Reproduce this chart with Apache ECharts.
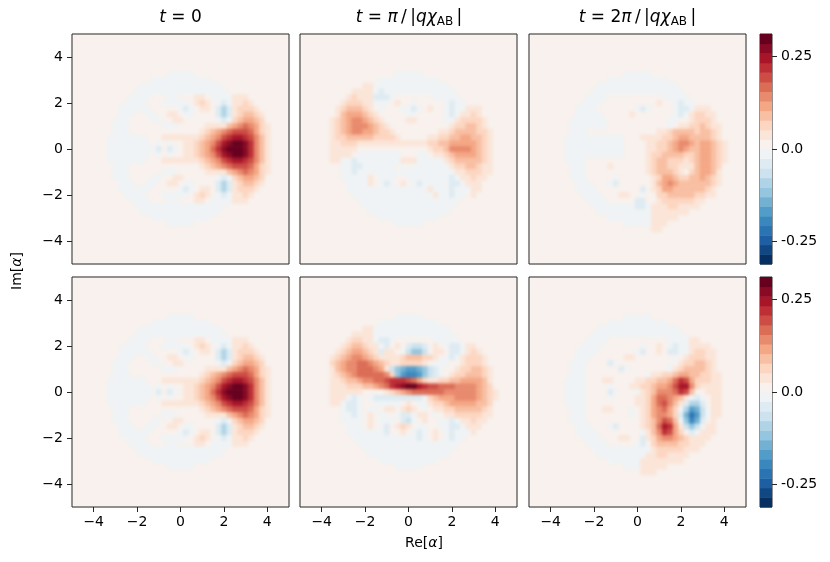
<!DOCTYPE html>
<html>

<head>
    <meta charset="utf-8">
    <script src="https://cdn.jsdelivr.net/npm/echarts@6/dist/echarts.min.js"></script>
    <style>
        html, body { margin: 0; padding: 0; background: #fff; }
        #wrap { position: relative; width: 830px; height: 562px; }
        #heat, #main { position: absolute; left: 0; top: 0; width: 830px; height: 562px; }
        /* soften the cell edges so the bands read like filled contours */
        #heat { filter: blur(1.8px); }
    </style>
</head>

<body>
    <div id="wrap">
        <div id="heat"></div>
        <div id="main"></div>
    </div>
    <script type="text/javascript">
        // cells cover Re[α], Im[α] from -4 to 4 in steps of 0.25, rows run from Im = 4 down to Im = -4
        // level codes: '0'..'9','A','B' = bands above zero, 'a','b','c',... = bands below zero
        var cellStart = -4;
        var cellStep = 0.25;

        // t = 0 (same picture in both rows)
        var wignerT0 = [
            "000000000000000000000000000000000",
            "000000000000000000000000000000000",
            "000000000000000000000000000000000",
            "00000000000000aaaaa00000000000000",
            "00000000000aaaaaaaaaaa00000000000",
            "000000000aaaaaaaaaaaaaaa000000000",
            "00000000aaaaaaaaaaaaaaaaa00000000",
            "0000000aaaa000aa000110aaaa1110000",
            "000000aaaa000aaaaa01210aba1121000",
            "00000aaaaaa00000aba0110bdb1222100",
            "00000aaa00aa00110aa0000bdb1233210",
            "0000aaa0000aa0011000000aba2344320",
            "0000aaa000000aaa00000111134565421",
            "0000aaa00000000000001234567776421",
            "000aaaaaaa00011111112345789987531",
            "000aaaaaaaa0a0a0011234579ABBA8531",
            "000aaaaaaaaab0ba01123468ABBBA8531",
            "000aaaaaaaa0a0a0011234579ABBA8531",
            "000aaaaaaa00011111112345789987531",
            "0000aaa00000000000001234567776421",
            "0000aaa000000aaa00000111134565421",
            "0000aaa0000aa0011000000aba2344320",
            "00000aaa00aa00110aa0000bdb1233210",
            "00000aaaaaa00000aba0110bdb1222100",
            "000000aaaa000aaaaa01210aba1121000",
            "0000000aaaa000aa000110aaaa1110000",
            "00000000aaaaaaaaaaaaaaaaa00000000",
            "000000000aaaaaaaaaaaaaaa000000000",
            "00000000000aaaaaaaaaaa00000000000",
            "00000000000000aaaaa00000000000000",
            "000000000000000000000000000000000",
            "000000000000000000000000000000000",
            "000000000000000000000000000000000"
        ];

        // t = pi/|q chi_AB|, top row
        var wignerPiTop = [
            "000000000000000000000000000000000",
            "000000000000000000000000000000000",
            "000000000000000000000000000000000",
            "00000000000000aaaaa00000000000000",
            "00000000000aaaaaaaaaaa00000000000",
            "0000000011aaaaaaaaaaaaaa000000000",
            "0000001111abaaaaaaaaaaaaa00000000",
            "0000012111bbba0000000aaaaa0000000",
            "0000122211aaa0100a00000abaa000000",
            "00012333210a000aaba0100abaa111000",
            "0001344432100000aa00000aba1121000",
            "00123455432100001100000aa12222100",
            "001234555432100000000000122332100",
            "001234554432210000000011233332210",
            "001223333322221000001122334433210",
            "001122211111111111112233444443210",
            "001111100000000000001223555543210",
            "0011110aaaaaaaa000aa0112344443210",
            "0011aabaaaaaaaa111aaaaa1233333210",
            "0000aabbaaaaaa0a0aaaaaaa122332110",
            "0000aabaaaaaaaaaaaaaaaaaa11222110",
            "0000aaaaa10aaa00aaaaaaaaba1121100",
            "00000aaaa10aba010abaaaaabba111000",
            "00000aaaaaaaaaaaaaaa1aaabaaa11000",
            "000000aaaaaaaaaaaaaaa1aabaa010000",
            "0000000aaaaaaaaaaaaaaaaaaa0000000",
            "00000000aaaaaaaaaaaaaaaaa00000000",
            "000000000aaaaaaaaaaaaaaa000000000",
            "00000000000aaaaaaaaaaa00000000000",
            "00000000000000aaaaa00000000000000",
            "000000000000000000000000000000000",
            "000000000000000000000000000000000",
            "000000000000000000000000000000000"
        ];

        // t = 2pi/|q chi_AB|, top row
        var wigner2PiTop = [
            "000000000000000000000000000000000",
            "000000000000000000000000000000000",
            "000000000000000000000000000000000",
            "00000000000000aaaaa00000000000000",
            "00000000000aaaaaaaaaaa00000000000",
            "000000000aaaaaaaaaaaaaaa000000000",
            "00000000aaaaaaaaaaaaaaaaa00000000",
            "0000000aaaa0000000000aaaaa0000000",
            "000000aaaa0000000000100abaa000000",
            "00000aaaa0000000aba0000abba111000",
            "00000aaaaa0000010000000aba1221100",
            "0000aaaaaaa00000000000aa001222100",
            "0000aaaaaaa00000000000a0112232110",
            "0000aaa00000000000001123333233210",
            "000aaaaaaaaaaa0001111223443333210",
            "000aaaaaaaaaaa0000112234554344321",
            "000aaaaaaaaaaa0000112234543344321",
            "000aaaaaaaaaaa0000122333322344321",
            "000aaaa00000000000123322212344321",
            "0000aaa00001000000123322111344320",
            "0000aaa00000000000123332102344310",
            "0000aaa00000a00000012443223343210",
            "00000aaa000ab00000013454333333210",
            "00000aaaa00000000b012443333332100",
            "000000aaaa0001100a002233333221100",
            "0000000aaaa00000bb001222222110000",
            "00000000aaaaaaaabba11122111100000",
            "000000000aaaaaaaaaa11111110000000",
            "00000000000aaaaaaaa11111000000000",
            "00000000000000aaaaa11100000000000",
            "000000000000000000011000000000000",
            "000000000000000000000000000000000",
            "000000000000000000000000000000000"
        ];

        // t = pi/|q chi_AB|, bottom row
        var wignerPiBottom = [
            "000000000000000000000000000000000",
            "000000000000000000000000000000000",
            "000000000000000000000000000000000",
            "00000000000000aaaaa00000000000000",
            "00000000000aaaaaaaaaaa00000000000",
            "0000000011aaaaaaaaaaaaaa000000000",
            "0000001111aaaaaaaaaaaaaaa00000000",
            "0000012211abba0000000aaaaa0000000",
            "00001233211ab010bccb010abba110000",
            "00012344321b110aceeca110bba121000",
            "00123455432111123332210aba1222100",
            "002345566543211222210aaa001222100",
            "0013455666541cefggfecba0012233210",
            "00123456666652eghhgecba0122333210",
            "001123345566788876421122334444310",
            "001112223345689ABB987766655554320",
            "001111110000123456666665555554321",
            "00111aba0abbbbbbbbba2344455554321",
            "0011abba00aaaaa010aa1223444443320",
            "0000abba0aa01101210a0112233333210",
            "0000aaba010aa0abba110a01122222110",
            "0000aaaa010aaa0bca0100aaba1121100",
            "00000aaa010ab01210aa00aabba111000",
            "00000aaaaaaab0010aba010abaaa10000",
            "000000aaaaaaaaaaaaba010abaa000000",
            "0000000aaaaaaaaaaaaaaaaaaa0000000",
            "00000000aaaaaaaaaaaaaaaaa00000000",
            "000000000aaaaaaaaaaaaaaa000000000",
            "00000000000aaaaaaaaaaa00000000000",
            "00000000000000aaaaa00000000000000",
            "000000000000000000000000000000000",
            "000000000000000000000000000000000",
            "000000000000000000000000000000000"
        ];

        // t = 2pi/|q chi_AB|, bottom row
        var wigner2PiBottom = [
            "000000000000000000000000000000000",
            "000000000000000000000000000000000",
            "000000000000000000000000000000000",
            "00000000000000aaaaa00000000000000",
            "00000000000aaaaaaaaaaa00000000000",
            "000000000aaaaaaaaaaaaaaa000000000",
            "00000000aaaaaaaaaaaaaaaaa00000000",
            "0000000aaaa00000000000aaaa1100000",
            "000000aaaa0000000a0010abaa1111000",
            "00000aaaa0000000ab0010bbaa1221100",
            "00000aaa000000110000000a012221100",
            "0000aaa0000ba000000000a0122332100",
            "0000aaa000000ba0000000a1233332100",
            "0000aaa00000000000a11223443322110",
            "000aaaa00011000011223346874222110",
            "000aaaa0000a000112234457995211110",
            "000aaaa0000ba000a1235556873001110",
            "000aaaa0000a00001124665431aba0110",
            "000aaaa000000000112467531bddb0110",
            "0000aaa00011000a01245642adgfca110",
            "0000aaa00000000a01245542bfigca110",
            "0000aaa00000000001235763aehfb0100",
            "00000aaa000ab000012369841ceca1100",
            "00000aaaa00000000a13587420ba11100",
            "000000aaaa0001100b124554321111000",
            "0000000aaaa00000ab023333221110000",
            "00000000aaaaaaaaaaa12222211100000",
            "000000000aaaaaaaaa112211110000000",
            "00000000000aaaaaa1111111100000000",
            "00000000000000aaa1111100000000000",
            "000000000000000001110000000000000",
            "000000000000000000000000000000000",
            "000000000000000000000000000000000"
        ];

        var panelData = [wignerT0, wignerPiTop, wigner2PiTop, wignerT0, wignerPiBottom, wigner2PiBottom];
        var panelTitles = [
            '{i|t} = 0',
            '{i|t} = {i|π}\u2009/\u2009|{i|qχ}{s|AB}\u2009|',
            '{i|t} = 2{i|π}\u2009/\u2009|{i|qχ}{s|AB}\u2009|'
        ];
        var axisTicks = [-4, -2, 0, 2, 4];
        var cbarTicks = [0.25, 0, -0.25];
        var cbarMax = 0.31;
        var bandCount = 24;

        var font = 'DejaVu Sans';
        var bandWidth = 2 * cbarMax / bandCount;

        // RdBu_r
        var rdbuStops = ['#053061', '#2166ac', '#4393c3', '#92c5de', '#d1e5f0', '#f7f7f7',
            '#fddbc7', '#f4a582', '#d6604d', '#b2182b', '#67001f'];

        function hexRgb(h) {
            return [parseInt(h.slice(1, 3), 16), parseInt(h.slice(3, 5), 16), parseInt(h.slice(5, 7), 16)];
        }

        function rdbu(t) {
            var p = Math.max(0, Math.min(1, t)) * 10;
            var i = Math.min(9, Math.floor(p));
            var f = p - i;
            var a = hexRgb(rdbuStops[i]), b = hexRgb(rdbuStops[i + 1]);
            var c = a.map(function (v, k) { return Math.round(v + (b[k] - v) * f); });
            return 'rgb(' + c.join(',') + ')';
        }

        var pieces = [];
        for (var k = 0; k < bandCount; k++) {
            var lo = -cbarMax + k * bandWidth;
            pieces.push({ gte: lo, lt: lo + bandWidth, color: rdbu(k / (bandCount - 1)) });
        }
        var bgColor = rdbu((bandCount / 2) / (bandCount - 1));

        function levelOf(ch) {
            var c = ch.charCodeAt(0);
            if (c >= 48 && c <= 57) return c - 48;
            if (c >= 65 && c <= 90) return c - 55;
            return -(c - 96);
        }

        function toCells(rows) {
            var out = [];
            rows.forEach(function (row, j) {
                var im = -cellStart - j * cellStep;
                for (var i = 0; i < row.length; i++) {
                    out.push([cellStart + i * cellStep, im, (levelOf(row[i]) + 0.5) * bandWidth]);
                }
            });
            return out;
        }

        function renderCell(params, api) {
            var re = api.value(0), im = api.value(1);
            var a = api.coord([re - cellStep / 2, im + cellStep / 2]);
            var b = api.coord([re + cellStep / 2, im - cellStep / 2]);
            return {
                type: 'rect',
                shape: { x: a[0], y: a[1], width: b[0] - a[0] + 0.5, height: b[1] - a[1] + 0.5 },
                style: { fill: api.visual('color') }
            };
        }

        function renderBand(params, api) {
            var mid = api.value(1);
            var a = api.coord([0, mid + bandWidth / 2]);
            var b = api.coord([1, mid - bandWidth / 2]);
            return {
                type: 'rect',
                shape: { x: a[0], y: a[1], width: b[0] - a[0], height: b[1] - a[1] + 0.5 },
                style: { fill: api.visual('color') }
            };
        }

        function minusLabel(v) {
            return v < 0 ? '\u2212' + Math.abs(v) : String(v);
        }

        var panelLeft = [72, 300, 529];
        var panelTop = [34, 277];
        var panelW = 217, panelH = 230;

        // layer 1: the cells only
        var heatGrids = [], heatX = [], heatY = [], heatSeries = [];
        // layer 2: frames, axes, colour bars, text
        var grids = [], xAxes = [], yAxes = [], series = [], titles = [];

        panelData.forEach(function (rows, p) {
            var row = Math.floor(p / 3), col = p % 3;
            var box = { left: panelLeft[col], top: panelTop[row], width: panelW, height: panelH };
            heatGrids.push(Object.assign({ show: true, backgroundColor: bgColor, borderWidth: 0 }, box));
            heatX.push({ gridIndex: p, type: 'value', min: -5, max: 5, show: false });
            heatY.push({ gridIndex: p, type: 'value', min: -5, max: 5, show: false });
            heatSeries.push({
                type: 'custom', xAxisIndex: p, yAxisIndex: p, silent: true,
                renderItem: renderCell, encode: { x: 0, y: 1 }, data: toCells(rows)
            });

            grids.push(Object.assign({ show: true, backgroundColor: 'transparent', borderColor: '#262626', borderWidth: 1 }, box));
            xAxes.push({
                gridIndex: p, type: 'value', min: -5, max: 5, position: 'bottom',
                axisLine: { show: false, onZero: false }, splitLine: { show: false },
                axisTick: { show: row === 1, customValues: axisTicks, length: 5, lineStyle: { color: '#262626' } },
                axisLabel: {
                    show: row === 1, customValues: axisTicks, formatter: minusLabel,
                    fontFamily: font, fontSize: 14, color: '#000', margin: 8
                }
            });
            yAxes.push({
                gridIndex: p, type: 'value', min: -5, max: 5, position: 'left',
                axisLine: { show: false, onZero: false }, splitLine: { show: false },
                axisTick: { show: col === 0, customValues: axisTicks, length: 5, lineStyle: { color: '#262626' } },
                axisLabel: {
                    show: col === 0, customValues: axisTicks, formatter: minusLabel,
                    fontFamily: font, fontSize: 14, color: '#000', margin: 9
                }
            });
        });

        // colour bars
        var bandMids = pieces.map(function (pc) { return pc.gte + bandWidth / 2; });
        panelTop.forEach(function (top) {
            var g = grids.length;
            grids.push({
                left: 760, top: top, width: 12, height: panelH,
                show: true, backgroundColor: '#fff', borderColor: '#262626', borderWidth: 1
            });
            xAxes.push({ gridIndex: g, type: 'value', min: 0, max: 1, show: false });
            yAxes.push({
                gridIndex: g, type: 'value', min: -cbarMax, max: cbarMax, position: 'right',
                axisLine: { show: false, onZero: false }, splitLine: { show: false },
                axisTick: { show: true, customValues: cbarTicks, length: 5, lineStyle: { color: '#262626' } },
                axisLabel: {
                    customValues: cbarTicks, fontFamily: font, fontSize: 14, color: '#000', margin: 9,
                    formatter: function (v) { return v === 0 ? '0.0' : String(v); }
                }
            });
            series.push({
                type: 'custom', xAxisIndex: g, yAxisIndex: g, silent: true, z: 1,
                renderItem: renderBand, encode: { x: 0, y: 1 },
                data: bandMids.map(function (m) { return [0, m, m]; })
            });
        });

        var titleCenters = [180.5, 409, 637.5];
        panelTitles.forEach(function (t, c) {
            titles.push({
                text: t, left: titleCenters[c], top: 7, textAlign: 'center', padding: 0,
                textStyle: {
                    fontFamily: font, fontSize: 17, fontWeight: 'normal', color: '#000', lineHeight: 21,
                    rich: {
                        i: { fontFamily: font, fontSize: 17, fontStyle: 'italic', color: '#000', lineHeight: 21 },
                        s: { fontFamily: font, fontSize: 12, color: '#000', verticalAlign: 'bottom', lineHeight: 21 }
                    }
                }
            });
        });

        var heatChart = echarts.init(document.getElementById('heat'));
        heatChart.setOption({
            animation: false,
            grid: heatGrids,
            xAxis: heatX,
            yAxis: heatY,
            visualMap: {
                type: 'piecewise', show: false, dimension: 2,
                seriesIndex: heatSeries.map(function (s, i) { return i; }),
                pieces: pieces
            },
            series: heatSeries
        });

        var myChart = echarts.init(document.getElementById('main'));
        myChart.setOption({
            animation: false,
            backgroundColor: 'transparent',
            title: titles,
            grid: grids,
            xAxis: xAxes,
            yAxis: yAxes,
            visualMap: {
                type: 'piecewise', show: false, dimension: 2,
                seriesIndex: series.map(function (s, i) { return i; }),
                pieces: pieces
            },
            graphic: [
                {
                    type: 'text', x: 424, y: 543,
                    style: {
                        text: 'Re[{i|α}]', font: '14px "DejaVu Sans"', fill: '#000',
                        align: 'center', verticalAlign: 'middle',
                        rich: { i: { fontFamily: font, fontSize: 14, fontStyle: 'italic', fill: '#000' } }
                    }
                },
                {
                    type: 'text', x: 17, y: 271, rotation: Math.PI / 2,
                    style: {
                        text: 'Im[{i|α}]', font: '14px "DejaVu Sans"', fill: '#000',
                        align: 'center', verticalAlign: 'middle',
                        rich: { i: { fontFamily: font, fontSize: 14, fontStyle: 'italic', fill: '#000' } }
                    }
                }
            ],
            series: series
        });
    </script>
</body>

</html>
